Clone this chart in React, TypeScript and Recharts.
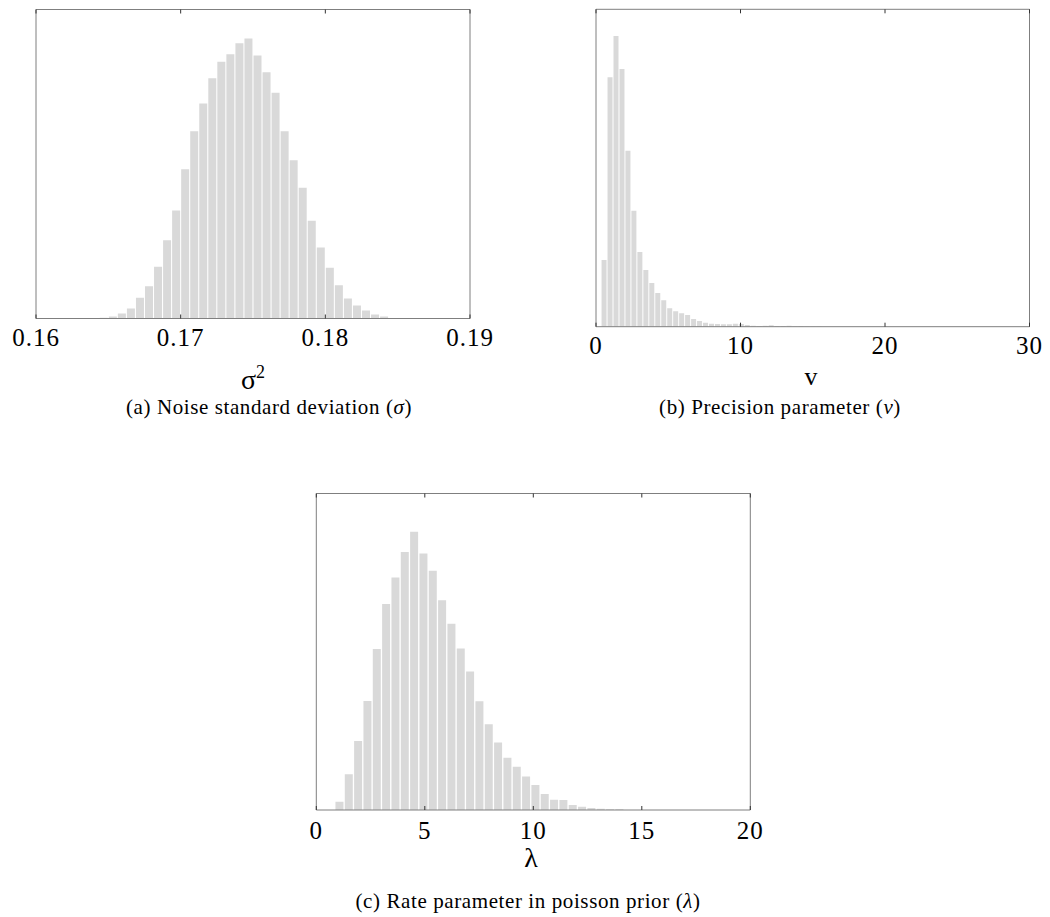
import { BarChart, Bar, XAxis, YAxis } from 'recharts'

// (a) noise variance sigma^2 : bin centres and counts
const sigmaBins = [
  0.1646875, 0.1653125, 0.1659375, 0.1665625, 0.1671875, 0.1678125, 0.1684375, 0.1690625,
  0.1696875, 0.1703125, 0.1709375, 0.1715625, 0.1721875, 0.1728125, 0.1734375, 0.1740625,
  0.1746875, 0.1753125, 0.1759375, 0.1765625, 0.1771875, 0.1778125, 0.1784375, 0.1790625,
  0.1796875, 0.1803125, 0.1809375, 0.1815625, 0.1821875, 0.1828125, 0.1834375, 0.1840625,
]
const sigmaCounts = [
  2, 6, 15, 30, 62, 97, 155, 235, 324, 448, 562, 645, 721, 770, 793, 826,
  840, 789, 739, 677, 562, 475, 392, 293, 213, 152, 100, 60, 39, 24, 12, 6,
]
const sigmaTicks = [0.16, 0.17, 0.18, 0.19]

// (b) precision parameter v
const vBins = [
  0.557, 0.97, 1.383, 1.796, 2.209, 2.622, 3.035, 3.448, 3.861, 4.274, 4.687, 5.1, 5.513,
  5.926, 6.339, 6.752, 7.165, 7.578, 7.991, 8.404, 8.817, 9.23, 9.643, 10.056, 10.469,
  10.882, 11.295, 11.708, 12.121, 12.534, 12.947, 13.36, 13.773, 14.186, 14.599, 15.012, 15.425,
]
const vCounts = [
  200, 748, 872, 773, 528, 348, 224, 170, 131, 101, 79, 55, 46, 40, 35, 23, 17, 12, 9,
  8, 7, 7, 9, 8, 5, 3, 2, 3, 4, 2, 2, 3, 1, 2, 1, 1, 1,
]
const vTicks = [0, 10, 20, 30]

// (c) rate parameter lambda
const lambdaBins = [
  1.075, 1.505, 1.935, 2.365, 2.795, 3.225, 3.655, 4.085, 4.515, 4.945, 5.375, 5.805,
  6.235, 6.665, 7.095, 7.525, 7.955, 8.385, 8.815, 9.245, 9.675, 10.105, 10.535, 10.965,
  11.395, 11.825, 12.255, 12.685, 13.115, 13.545, 13.975,
]
const lambdaCounts = [
  25, 107, 206, 326, 481, 616, 695, 771, 832, 767, 715, 627, 557, 483, 414, 325,
  256, 202, 156, 129, 100, 75, 48, 31, 30, 15, 10, 6, 4, 2, 2,
]
const lambdaTicks = [0, 5, 10, 15, 20]

const FRAME = '#7f7f7f'
const TICK = '#333'
const BAR = '#d9d9d9'
const SERIF = 'Liberation Serif, serif'

const toRows = (xs: number[], ys: number[]) => xs.map((x, i) => ({ x, count: ys[i] }))

// inward tick mark on the bottom edge plus the label under it
function BottomTick(props: any) {
  const { x, y, payload, gap } = props
  return (
    <g>
      <line x1={x} x2={x} y1={y - gap} y2={y - gap - 4} stroke={TICK} strokeWidth={1} />
      <text
        x={x}
        y={y}
        dy="0.71em"
        textAnchor="middle"
        fill="#000"
        style={{ fontFamily: SERIF, fontSize: 25, letterSpacing: 1 }}
      >
        {String(payload.value)}
      </text>
    </g>
  )
}

// inward tick mark on the top edge
function TopTick(props: any) {
  const { x, y } = props
  return <line x1={x} x2={x} y1={y} y2={y + 4} stroke={TICK} strokeWidth={1} />
}

interface HistProps {
  xs: number[]
  ys: number[]
  domain: [number, number]
  ticks: number[]
  yMax: number
  left: number
  top: number
  width: number
  height: number
  frame: { top: number; right: number; bottom: number; left: number }
  tickMargin: number
}

function Hist({ xs, ys, domain, ticks, yMax, left, top, width, height, frame, tickMargin }: HistProps) {
  const data = toRows(xs, ys)
  // the 1px axes take one pixel each from the margins
  const margin = {
    top: frame.top - 1,
    left: frame.left - 1,
    right: width - frame.right - 1,
    bottom: height - frame.bottom - 30,
  }

  return (
    <div style={{ position: 'absolute', left, top }}>
      <BarChart width={width} height={height} data={data} margin={margin} barCategoryGap={0.5}>
        <XAxis
          xAxisId="top"
          orientation="top"
          type="number"
          dataKey="x"
          domain={domain}
          ticks={ticks}
          interval={0}
          height={1}
          tickSize={0}
          tickMargin={0}
          tickLine={false}
          axisLine={{ stroke: FRAME }}
          tick={<TopTick />}
          allowDataOverflow
        />
        <XAxis
          xAxisId="bottom"
          type="number"
          dataKey="x"
          domain={domain}
          ticks={ticks}
          interval={0}
          height={30}
          tickSize={0}
          tickMargin={tickMargin}
          tickLine={false}
          axisLine={{ stroke: FRAME }}
          tick={<BottomTick gap={tickMargin} />}
          allowDataOverflow
        />
        <YAxis yAxisId="left" type="number" domain={[0, yMax]} width={1} tick={false} tickLine={false} axisLine={{ stroke: FRAME }} allowDataOverflow />
        <YAxis yAxisId="right" orientation="right" type="number" domain={[0, yMax]} width={1} tick={false} tickLine={false} axisLine={{ stroke: FRAME }} allowDataOverflow />
        <Bar xAxisId="bottom" yAxisId="left" dataKey="count" fill={BAR} isAnimationActive={false} />
      </BarChart>
    </div>
  )
}

export default function App() {
  return (
    <div style={{ position: 'absolute', left: 0, top: 0, width: 1050, height: 917, background: '#fff' }}>
      <Hist
        xs={sigmaBins} ys={sigmaCounts} domain={[0.16, 0.19]} ticks={sigmaTicks} yMax={927}
        left={0} top={0} width={510} height={370}
        frame={{ top: 9.5, right: 470, bottom: 318.5, left: 36 }} tickMargin={10}
      />
      <Hist
        xs={vBins} ys={vCounts} domain={[0, 30]} ticks={vTicks} yMax={952}
        left={560} top={0} width={490} height={370}
        frame={{ top: 9.3, right: 469.5, bottom: 326.7, left: 36 }} tickMargin={10}
      />
      <Hist
        xs={lambdaBins} ys={lambdaCounts} domain={[0, 20]} ticks={lambdaTicks} yMax={946}
        left={280} top={480} width={500} height={380}
        frame={{ top: 13.5, right: 470.3, bottom: 330, left: 36.3 }} tickMargin={11}
      />
      <svg width={1050} height={917} style={{ position: 'absolute', left: 0, top: 0, pointerEvents: 'none' }}>
        <g style={{ fontFamily: SERIF }} fill="#000">
          <text x={253} y={389} textAnchor="middle" fontSize={28}>
            σ<tspan dy={-11} fontSize={18}>2</tspan>
          </text>
          <text x={811} y={385} textAnchor="middle" fontSize={26}>v</text>
          <text x={531} y={867} textAnchor="middle" fontSize={28}>λ</text>
          <text x={269} y={414} textAnchor="middle" fontSize={21} letterSpacing={0.6}>
            (a) Noise standard deviation (<tspan fontStyle="italic">σ</tspan>)
          </text>
          <text x={780} y={414} textAnchor="middle" fontSize={21} letterSpacing={0.6}>
            (b) Precision parameter (<tspan fontStyle="italic">v</tspan>)
          </text>
          <text x={528} y={908} textAnchor="middle" fontSize={21} letterSpacing={0.6}>
            (c) Rate parameter in poisson prior (<tspan fontStyle="italic">λ</tspan>)
          </text>
        </g>
      </svg>
    </div>
  )
}
